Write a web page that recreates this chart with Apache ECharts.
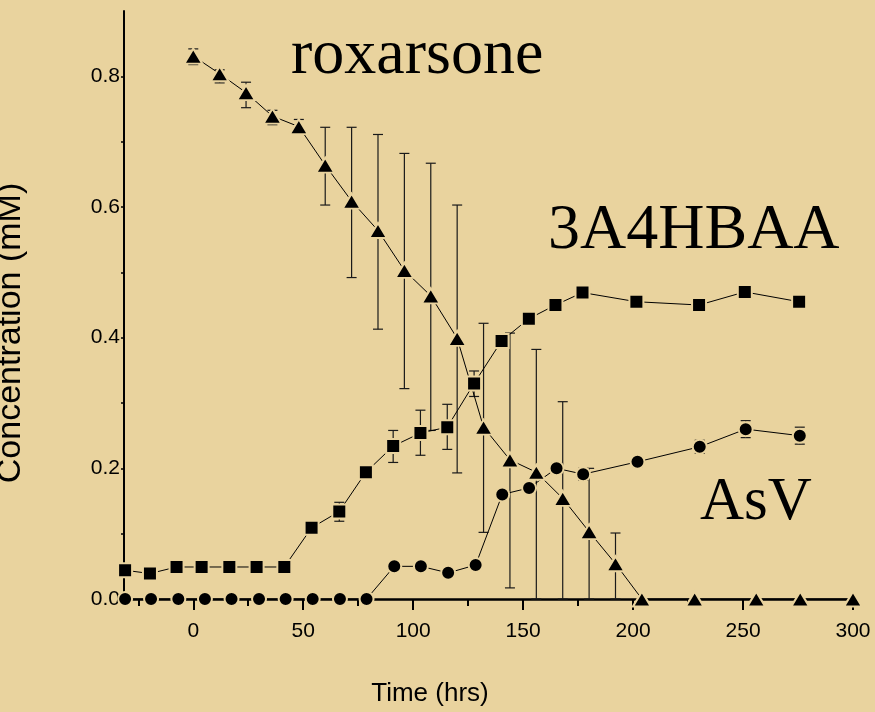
<!DOCTYPE html>
<html>
<head>
<meta charset="utf-8">
<script src="https://cdn.jsdelivr.net/npm/echarts@6/dist/echarts.min.js"></script>
<style>
html,body{margin:0;padding:0;background:#e9d39e;}
#c{width:875px;height:712px;}
</style>
</head>
<body>
<div id="c"></div>
<script>
// ---- Data ----
// Roxarsone (triangles)
var roxTime = [0, 12, 24, 36, 48, 60, 72, 84, 96, 108, 120, 132, 144, 156, 168, 180, 192, 204, 228, 256, 276, 300];
var roxConc = [0.831, 0.804, 0.775, 0.739, 0.723, 0.664, 0.609, 0.564, 0.503, 0.464, 0.399, 0.263, 0.213, 0.194, 0.154, 0.103, 0.054, 0.0, 0.0, 0.0, 0.0, 0.0];
var roxLow  = [0.818, 0.79, 0.752, 0.726, 0.713, 0.603, 0.492, 0.413, 0.322, 0.258, 0.193, 0.102, 0.017, 0.0, 0.0, 0.0, 0.0, 0.0, 0.0, 0.0, 0.0, 0.0];
var roxHigh = [0.842, 0.81, 0.791, 0.748, 0.734, 0.722, 0.722, 0.711, 0.682, 0.667, 0.603, 0.422, 0.407, 0.382, 0.302, 0.2, 0.101, 0.0, 0.0, 0.0, 0.0, 0.0];

// 3A4HBAA (squares)
var hbTime = [-31, -19.7, -7.6, 3.8, 16.4, 28.8, 41.4, 53.8, 66.4, 78.5, 90.9, 103.3, 115.5, 127.7, 140.2, 152.6, 164.7, 177, 201.5, 230, 250.8, 275.5];
var hbConc = [0.044, 0.039, 0.049, 0.049, 0.049, 0.049, 0.049, 0.109, 0.134, 0.194, 0.234, 0.254, 0.263, 0.33, 0.395, 0.429, 0.45, 0.469, 0.455, 0.45, 0.47, 0.455];
var hbLow  = [0.044, 0.034, 0.049, 0.049, 0.049, 0.049, 0.049, 0.109, 0.119, 0.194, 0.209, 0.22, 0.229, 0.31, 0.395, 0.429, 0.45, 0.462, 0.455, 0.445, 0.46, 0.455];
var hbHigh = [0.044, 0.044, 0.049, 0.049, 0.049, 0.049, 0.049, 0.109, 0.148, 0.194, 0.258, 0.289, 0.298, 0.349, 0.395, 0.429, 0.45, 0.476, 0.455, 0.455, 0.48, 0.455];

// AsV (circles)
var asTime = [-31, -19.2, -6.8, 5.3, 17.4, 29.9, 42, 54.3, 66.7, 78.8, 91.4, 103.5, 115.9, 128.4, 140.5, 152.7, 165.2, 177.3, 202, 230.3, 251.2, 275.8];
var asConc = [0.0, 0.0, 0.0, 0.0, 0.0, 0.0, 0.0, 0.0, 0.0, 0.0, 0.05, 0.05, 0.04, 0.052, 0.16, 0.17, 0.2, 0.191, 0.21, 0.233, 0.26, 0.25];
var asLow  = [0.0, 0.0, 0.0, 0.0, 0.0, 0.0, 0.0, 0.0, 0.0, 0.0, 0.05, 0.05, 0.04, 0.052, 0.16, 0.163, 0.192, 0.182, 0.202, 0.223, 0.247, 0.237];
var asHigh = [0.0, 0.0, 0.0, 0.0, 0.0, 0.0, 0.0, 0.0, 0.0, 0.0, 0.05, 0.05, 0.04, 0.052, 0.16, 0.177, 0.208, 0.2, 0.218, 0.243, 0.273, 0.263];

// Axis ticks
var xMajorTicks = [0, 50, 100, 150, 200, 250, 300];
var xMinorTicks = [-25, 25, 75, 125, 175, 225, 275];
var yLabelTicks = [0, 0.2, 0.4, 0.6, 0.8];
var yAllTicks = [0, 0.1, 0.2, 0.3, 0.4, 0.5, 0.6, 0.7, 0.8];

// Annotations
var seriesNames = ['roxarsone', '3A4HBAA', 'AsV'];
var xTitle = 'Time (hrs)';
var yTitle = 'Concentration (mM)';

// ---- Build ----
var BG = '#e9d39e';
function pairs(xs, ys) { return xs.map(function (x, i) { return [x, ys[i]]; }); }
function triples(xs, lo, hi) { return xs.map(function (x, i) { return [x, lo[i], hi[i]]; }); }

function errRender(params, api) {
  var x = api.value(0), lo = api.value(1), hi = api.value(2);
  if (hi - lo < 1e-9) return null;
  var pHi = api.coord([x, hi]), pLo = api.coord([x, lo]);
  var w = 5;
  var st = { stroke: '#1a1a1a', lineWidth: 1.2 };
  return {
    type: 'group',
    children: [
      { type: 'line', shape: { x1: pHi[0], y1: pHi[1], x2: pLo[0], y2: pLo[1] }, style: st },
      { type: 'line', shape: { x1: pHi[0] - w, y1: pHi[1], x2: pHi[0] + w, y2: pHi[1] }, style: st },
      { type: 'line', shape: { x1: pLo[0] - w, y1: pLo[1], x2: pLo[0] + w, y2: pLo[1] }, style: st }
    ]
  };
}

function errSeries(xs, lo, hi) {
  return {
    type: 'custom', xAxisIndex: 0, yAxisIndex: 0, z: 1,
    renderItem: errRender,
    encode: { x: 0, y: [1, 2] },
    data: triples(xs, lo, hi),
    silent: true
  };
}

function lineSeries(name, xs, ys, symbol, size) {
  return {
    name: name, type: 'line', xAxisIndex: 0, yAxisIndex: 0, z: 3,
    data: pairs(xs, ys),
    symbol: symbol, symbolSize: size,
    showAllSymbol: true,
    lineStyle: { color: '#000', width: 1 },
    itemStyle: { color: '#000', borderColor: BG, borderWidth: 2 },
    animation: false, silent: true
  };
}

var chart = echarts.init(document.getElementById('c'), null, { renderer: 'canvas' });
var tickFont = { fontFamily: 'Liberation Sans', fontSize: 21, color: '#000' };

chart.setOption({
  backgroundColor: BG,
  animation: false,
  grid: { left: 124, right: 22, top: 11, bottom: 113, containLabel: false },
  xAxis: [
    {
      type: 'value', min: -31.5, max: 300, position: 'bottom',
      axisLine: { show: true, onZero: false, lineStyle: { color: '#000', width: 2.5 } },
      axisTick: { show: true, inside: false, length: 11, lineStyle: { color: '#000', width: 2 }, customValues: xMajorTicks },
      axisLabel: Object.assign({ margin: 22, customValues: xMajorTicks, showMinLabel: true, showMaxLabel: true }, tickFont),
      splitLine: { show: false }
    },
    {
      type: 'value', min: -31.5, max: 300, position: 'bottom',
      axisLine: { show: false },
      axisTick: { show: true, inside: false, length: 7, lineStyle: { color: '#000', width: 2 }, customValues: xMinorTicks },
      axisLabel: { show: false },
      splitLine: { show: false }
    }
  ],
  yAxis: [
    {
      type: 'value', min: 0, max: 0.9,
      axisLine: { show: true, onZero: false, lineStyle: { color: '#000', width: 2 } },
      axisTick: { show: true, inside: false, length: 3, lineStyle: { color: '#000', width: 1.5 }, customValues: yAllTicks },
      axisLabel: Object.assign({ margin: 4, customValues: yLabelTicks, formatter: function (v) { return v.toFixed(1); } }, tickFont),
      splitLine: { show: false }
    }
  ],
  series: [
    errSeries(roxTime, roxLow, roxHigh),
    errSeries(hbTime, hbLow, hbHigh),
    errSeries(asTime, asLow, asHigh),
    lineSeries(seriesNames[1], hbTime, hbConc, 'rect', 14),
    lineSeries(seriesNames[2], asTime, asConc, 'circle', 14),
    lineSeries(seriesNames[0], roxTime, roxConc, 'triangle', [18, 15])
  ],
  graphic: [
    { type: 'text', x: 291, y: 56, z: 10,
      style: { text: seriesNames[0], font: '64px "Liberation Serif"', fill: '#000', textAlign: 'left', textVerticalAlign: 'middle' } },
    { type: 'text', x: 548, y: 231, z: 10,
      style: { text: seriesNames[1], font: '64px "Liberation Serif"', fill: '#000', textAlign: 'left', textVerticalAlign: 'middle' } },
    { type: 'text', x: 700, y: 503, z: 10,
      style: { text: seriesNames[2], font: '61px "Liberation Serif"', fill: '#000', textAlign: 'left', textVerticalAlign: 'middle' } },
    { type: 'text', x: 430, y: 694, z: 10,
      style: { text: xTitle, font: '26px "Liberation Sans"', fill: '#000', textAlign: 'center', textVerticalAlign: 'middle' } },
    { type: 'text', x: 11, y: 333, rotation: Math.PI / 2, z: 10,
      style: { text: yTitle, font: '34px "Liberation Sans"', fill: '#000', textAlign: 'center', textVerticalAlign: 'middle' } }
  ]
});
</script>
</body>
</html>
